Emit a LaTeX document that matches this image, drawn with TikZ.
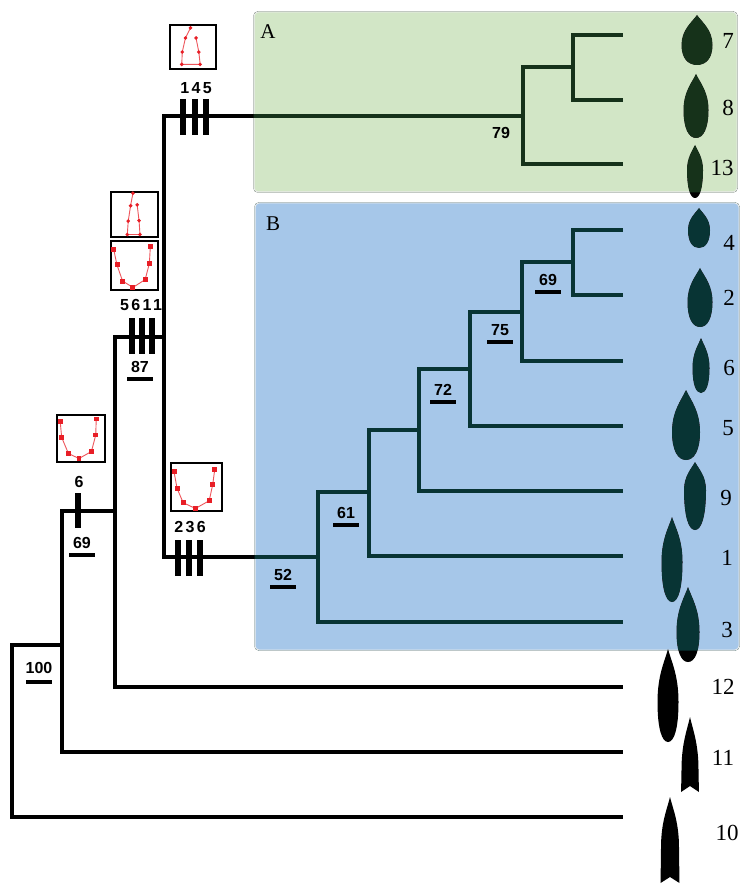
\documentclass[tikz,border=0pt]{standalone}
\usepackage{fontspec}
\setmainfont{Liberation Serif}
\newfontfamily\labfont{Liberation Sans}
\usetikzlibrary{positioning,plotmarks}

\definecolor{cladeA}{RGB}{210,230,198}
\definecolor{cladeAdark}{RGB}{22,50,26}
\definecolor{cladeB}{RGB}{166,199,233}
\definecolor{cladeBdark}{RGB}{8,52,52}
\definecolor{tracered}{RGB}{232,30,38}

\tikzset{
  branch/.style={line width=4.8pt, line join=miter},
  tickbar/.style={line width=6pt},
  supp/.style={font=\labfont\bfseries\fontsize{16}{19}\selectfont, inner sep=0pt},
  ticklab/.style={font=\labfont\bfseries\fontsize{16}{19}\selectfont\addfontfeature{LetterSpace=15}, inner sep=0pt},
  bar/.style={fill=black, minimum width=26pt, minimum height=4pt, inner sep=0pt},
  taxon/.style={font=\fontsize{23}{26}\selectfont, inner sep=0pt},
  cladebox/.style={rounded corners=4pt, draw=gray!15, line width=1pt, inner sep=0pt},
  cladelab/.style={font=\fontsize{21}{23}\selectfont, inner sep=0pt},
  inset/.style={draw=black, line width=2.2pt, fill=white, inner sep=0pt},
  trace/.style={tracered!75!white, line width=0.9pt, mark options={fill=tracered, draw=tracered}},
}

% point outline: centre x, top, bottom, half width, widest y
\newcommand\blade[5]{%
  \fill (#1,#2)
    .. controls ({#1+0.35*#4},{#2+0.25*(#5-#2)}) and ({#1+#4},{#5-0.5*(#5-#2)}) .. ({#1+#4},#5)
    .. controls ({#1+#4},{#5+0.65*(#3-#5)}) and ({#1+0.6*#4},#3) .. (#1,#3)
    .. controls ({#1-0.6*#4},#3) and ({#1-#4},{#5+0.65*(#3-#5)}) .. ({#1-#4},#5)
    .. controls ({#1-#4},{#5-0.5*(#5-#2)}) and ({#1-0.35*#4},{#2+0.25*(#5-#2)}) .. cycle;}
\newcommand\notched[5]{%
  \fill (#1,#2)
    .. controls ({#1+0.35*#4},{#2+0.25*(#5-#2)}) and ({#1+#4},{#5-0.5*(#5-#2)}) .. ({#1+#4},#5)
    -- ({#1+1.05*#4},#3) -- (#1,{#3-6}) -- ({#1-1.05*#4},#3) -- ({#1-#4},#5)
    .. controls ({#1-#4},{#5-0.5*(#5-#2)}) and ({#1-0.35*#4},{#2+0.25*(#5-#2)}) .. cycle;}

\begin{document}
\begin{tikzpicture}[x=1pt,y=-1pt]
\useasboundingbox (0,0) rectangle (741,890);

% clade boxes
\node[cladebox, fill=cladeA, minimum width=483pt, minimum height=180pt] (boxA) at (495.5,102) {};
\node[cladebox, fill=cladeB, minimum width=484pt, minimum height=447pt] (boxB) at (497,426.5) {};

% tips
\coordinate (t7) at (623,35);
\coordinate (t8) at (623,100);
\coordinate (t13) at (623,164);
\coordinate (t4) at (623,230);
\coordinate (t2) at (623,295);
\coordinate (t6) at (623,361);
\coordinate (t5) at (623,426);
\coordinate (t9) at (623,491);
\coordinate (t1) at (623,556);
\coordinate (t3) at (623,622);
\coordinate (t12) at (623,687);
\coordinate (t11) at (623,752);
\coordinate (t10) at (623,817);

% internal nodes
\coordinate (n78) at (573,67);
\coordinate (n79) at (523,116);
\coordinate (n42) at (573,262);
\coordinate (n69) at (522,312);
\coordinate (n75) at (470,369);
\coordinate (n72) at (419,430);
\coordinate (n61) at (369,492);
\coordinate (n52) at (318,557);
\coordinate (nAB) at (164,337);
\coordinate (n87) at (115,511);
\coordinate (n6) at (62,645);
\coordinate (n100) at (12,731);

\draw[branch] (n78) |- (t7);
\draw[branch] (n78) |- (t8);
\draw[branch] (n79) |- (n78);
\draw[branch] (n79) |- (t13);
\draw[branch] (nAB) |- (n79);

\draw[branch] (n42) |- (t4);
\draw[branch] (n42) |- (t2);
\draw[branch] (n69) |- (n42);
\draw[branch] (n69) |- (t6);
\draw[branch] (n75) |- (n69);
\draw[branch] (n75) |- (t5);
\draw[branch] (n72) |- (n75);
\draw[branch] (n72) |- (t9);
\draw[branch] (n61) |- (n72);
\draw[branch] (n61) |- (t1);
\draw[branch] (n52) |- (n61);
\draw[branch] (n52) |- (t3);
\draw[branch] (nAB) |- (n52);

\draw[branch] (n87) |- (nAB);
\draw[branch] (n87) |- (t12);
\draw[branch] (n6) |- (n87);
\draw[branch] (n6) |- (t11);
\draw[branch] (n100) |- (n6);
\draw[branch] (n100) |- (t10);

% points
\blade{697}{15}{65}{15.5}{45}
\blade{696}{74}{138}{12.5}{110}
\blade{695}{145}{198}{8}{170}
\blade{699}{208}{248}{11}{230}
\blade{700}{268}{327}{12.5}{302}
\blade{701}{338}{393}{8.5}{368}
\blade{686}{390}{460}{14}{432}
\blade{695}{462}{530}{11}{490}
\blade{672}{517}{602}{10.5}{562}
\blade{688}{587}{662}{11.5}{632}
\blade{668}{649}{742}{10.5}{702}
\notched{690}{717}{792}{8.5}{770}
\notched{670}{797}{883}{9}{848}

% tint inside the boxes
\fill[rounded corners=4pt, cladeAdark, blend mode=lighten] (boxA.south west) rectangle (boxA.north east);
\fill[rounded corners=4pt, cladeBdark, blend mode=lighten] (boxB.south west) rectangle (boxB.north east);

\node[cladelab] (labA) at (268,32) {A};
\node[cladelab] (labB) at (273,224) {B};

% character changes
\draw[tickbar] (183,99) -- (183,135);
\draw[tickbar] (195,99) -- (195,135);
\draw[tickbar] (206,99) -- (206,135);
\draw[tickbar] (132,318) -- (132,354);
\draw[tickbar] (142,318) -- (142,354);
\draw[tickbar] (152,318) -- (152,354);
\draw[tickbar] (178,540) -- (178,576);
\draw[tickbar] (189,540) -- (189,576);
\draw[tickbar] (200,540) -- (200,576);
\draw[tickbar] (78,493) -- (78,528);

\node[ticklab] (c145) at (196,88) {145};
\node[ticklab] (c5611) at (141,305) {5611};
\node[ticklab] (c236) at (190,527) {236};
\node[ticklab] (c6) at (79,482) {6};

% outline insets
\node[inset, minimum width=46pt, minimum height=44pt] (i145) at (193,47) {};
\begin{scope}[shift={(i145.north west)}, x=46pt, y=-44pt]
  \draw[trace] plot[mark=*, mark size=1.3pt] coordinates {(0.47,0.09) (0.36,0.32) (0.29,0.64) (0.28,0.92) (0.68,0.92) (0.65,0.64) (0.59,0.32)};
\end{scope}
\node[inset, minimum width=47pt, minimum height=45pt] (i5611a) at (134.5,214.5) {};
\begin{scope}[shift={(i5611a.north west)}, x=47pt, y=-45pt]
  \draw[trace] plot[mark=*, mark size=1.3pt] coordinates {(0.49,0.05) (0.44,0.33) (0.39,0.67) (0.37,0.97) (0.64,0.97) (0.62,0.66) (0.58,0.31)};
\end{scope}
\node[inset, minimum width=47pt, minimum height=49pt] (i5611b) at (134.5,265.5) {};
\begin{scope}[shift={(i5611b.north west)}, x=47pt, y=-49pt]
  \draw[trace] plot[mark=square*, mark size=2pt] coordinates {(0.08,0.19) (0.15,0.51) (0.27,0.84) (0.49,0.97) (0.75,0.81) (0.84,0.48) (0.86,0.14)};
\end{scope}
\node[inset, minimum width=48pt, minimum height=47pt] (i6) at (81,438.5) {};
\begin{scope}[shift={(i6.north west)}, x=48pt, y=-47pt]
  \draw[trace] plot[mark=square*, mark size=1.8pt] coordinates {(0.09,0.16) (0.12,0.50) (0.26,0.84) (0.48,0.95) (0.74,0.80) (0.83,0.45) (0.84,0.11)};
\end{scope}
\node[inset, minimum width=51pt, minimum height=48pt] (i236) at (196.5,487) {};
\begin{scope}[shift={(i236.north west)}, x=51pt, y=-48pt]
  \draw[trace] plot[mark=square*, mark size=2pt] coordinates {(0.08,0.20) (0.14,0.55) (0.26,0.85) (0.50,0.97) (0.77,0.81) (0.84,0.47) (0.88,0.15)};
\end{scope}

% support values
\node[supp] (s79) at (501,133) {79};
\node[supp] (s69) at (548,280) {69};
\node[bar, below=4pt of s69] (b69) {};
\node[supp] (s75) at (500,330) {75};
\node[bar, below=4pt of s75] (b75) {};
\node[supp] (s72) at (443,390) {72};
\node[bar, below=4pt of s72] (b72) {};
\node[supp] (s61) at (346,513) {61};
\node[bar, below=4pt of s61] (b61) {};
\node[supp] (s52) at (283,575) {52};
\node[bar, below=4pt of s52] (b52) {};
\node[supp] (s87) at (140,367) {87};
\node[bar, below=4pt of s87] (b87) {};
\node[supp] (s69b) at (82,543) {69};
\node[bar, below=4pt of s69b] (b69b) {};
\node[supp] (s100) at (39,668) {100};
\node[bar, below=6pt of s100] (b100) {};

% taxa
\node[taxon] (l7) at (728,41) {7};
\node[taxon] (l8) at (728,108) {8};
\node[taxon] (l13) at (722,168) {13};
\node[taxon] (l4) at (729,243) {4};
\node[taxon] (l2) at (729,298) {2};
\node[taxon] (l6) at (729,368) {6};
\node[taxon] (l5) at (728,428) {5};
\node[taxon] (l9) at (726,498) {9};
\node[taxon] (l1) at (727,558) {1};
\node[taxon] (l3) at (727,630) {3};
\node[taxon] (l12) at (723,687) {12};
\node[taxon] (l11) at (723,758) {11};
\node[taxon] (l10) at (727,833) {10};
\end{tikzpicture}
\end{document}
